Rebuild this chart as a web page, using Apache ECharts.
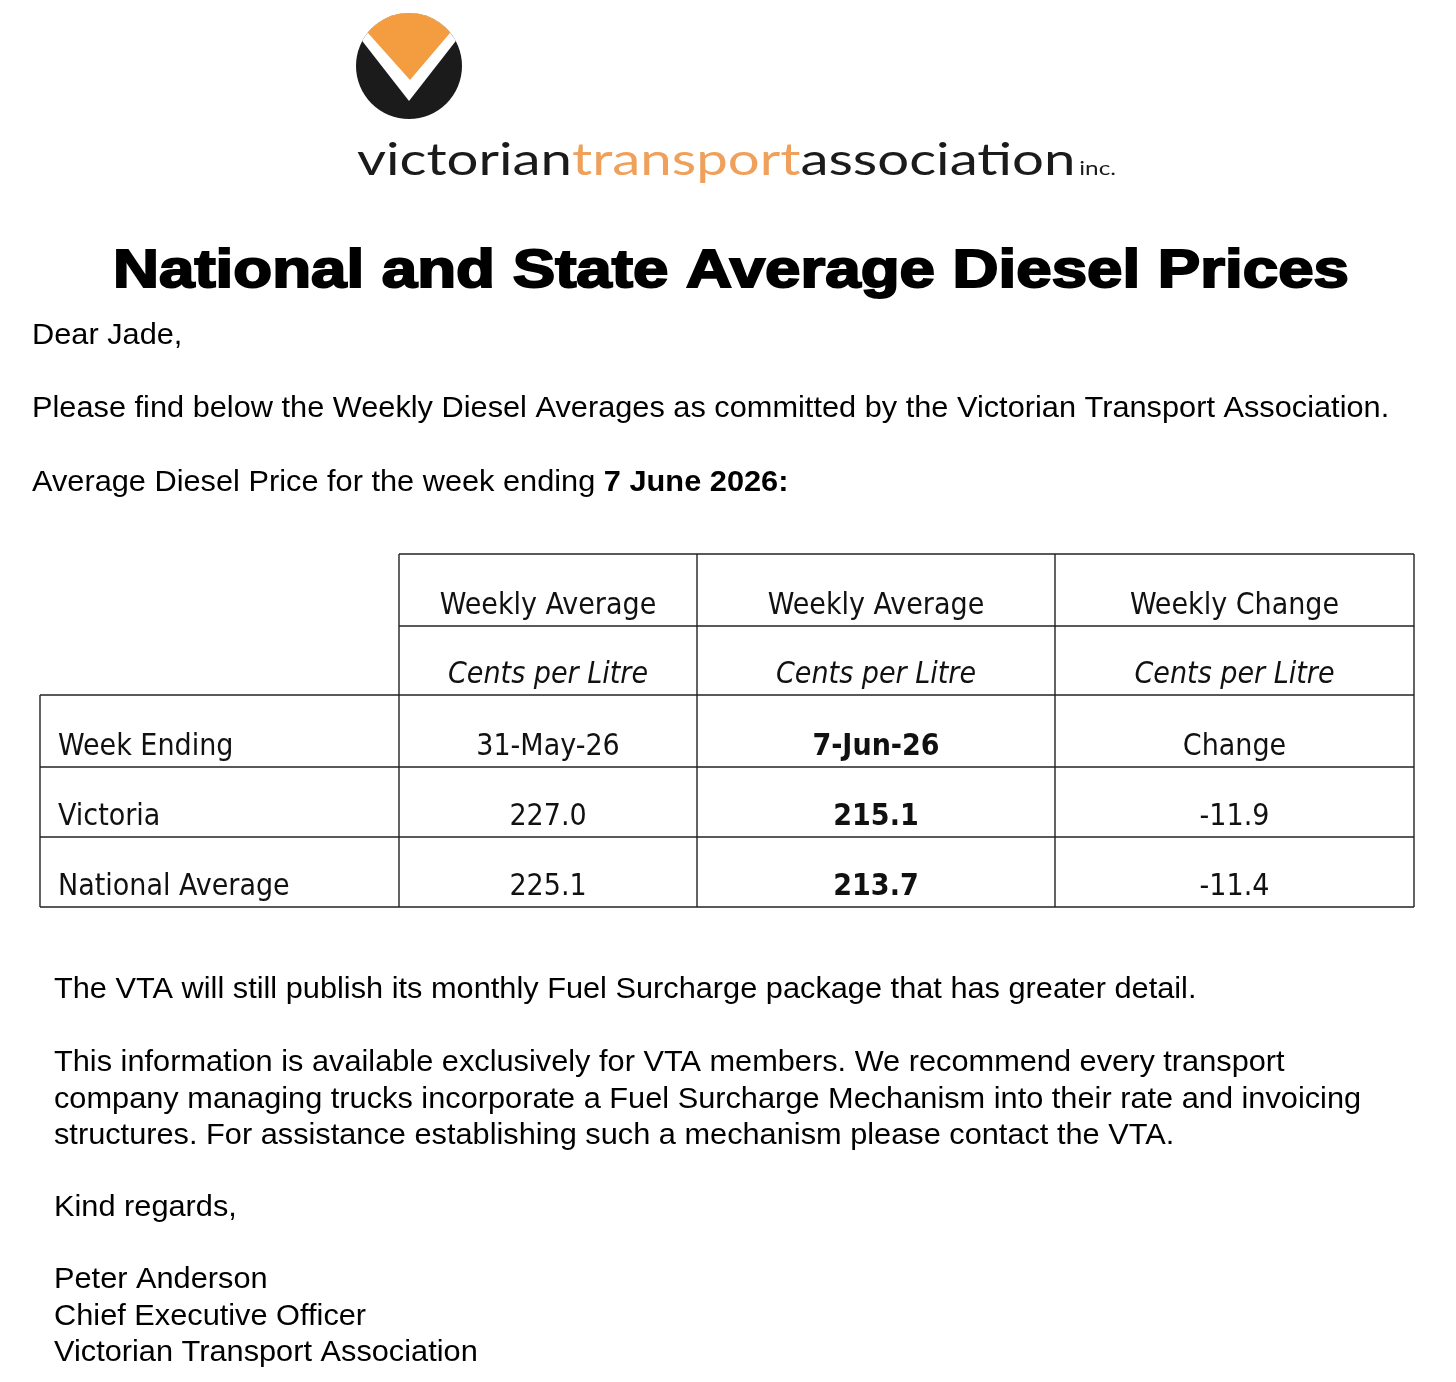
<!DOCTYPE html>
<html>
<head>
<meta charset="utf-8">
<script src="https://cdn.jsdelivr.net/npm/echarts@6/dist/echarts.min.js"></script>
<style>
html,body{margin:0;padding:0;background:#fff;}
#chart{width:1456px;height:1382px;}
</style>
</head>
<body>
<div id="chart"></div>
<script>
// ---------- data ----------
const titleText = 'National and State Average Diesel Prices';
const greeting = 'Dear Jade,';
const introLine = 'Please find below the Weekly Diesel Averages as committed by the Victorian Transport Association.';
const weekLead = 'Average Diesel Price for the week ending ';
const weekDate = '7 June 2026:';
const headerTop = ['Weekly Average', 'Weekly Average', 'Weekly Change'];
const headerUnits = ['Cents per Litre', 'Cents per Litre', 'Cents per Litre'];
const rowLabels = ['Week Ending', 'Victoria', 'National Average'];
const weekHeaders = ['31-May-26', '7-Jun-26', 'Change'];
const previousWeek = [227.0, 225.1];   // Victoria, National Average
const currentWeek = [215.1, 213.7];
const weeklyChange = [-11.9, -11.4];
const closingParas = [
  ['The VTA will still publish its monthly Fuel Surcharge package that has greater detail.'],
  ['This information is available exclusively for VTA members. We recommend every transport',
   'company managing trucks incorporate a Fuel Surcharge Mechanism into their rate and invoicing',
   'structures. For assistance establishing such a mechanism please contact the VTA.'],
  ['Kind regards,'],
  ['Peter Anderson', 'Chief Executive Officer', 'Victorian Transport Association']
];
const logoWords = ['victorian', 'transport', 'association', 'inc.'];

// ---------- layout / style ----------
const BODY_FONT = "'Liberation Sans', Arial, sans-serif";
const TABLE_FONT = "'DejaVu Sans Condensed', 'Liberation Sans Narrow', Roboto, sans-serif";
const LOGO_FONT = "Lato, 'Open Sans', sans-serif";
const ORANGE = '#F39C40';
const ORANGE_TXT = '#EFA05A';
const INK = '#1b1b1b';
const colX = [40, 399, 697, 1055, 1414];
const rowY = [554, 626, 695, 767, 837, 907];
const BODY_SIZE = 29;
const BODY_SX = 1.06;

const mctx = document.createElement('canvas').getContext('2d');
function measure(text, font) { mctx.font = font; return mctx.measureText(text).width; }

const chart = echarts.init(document.getElementById('chart'), null, {renderer: 'canvas'});
const g = [];

// logo mark
const cx = 409, cy = 66, r = 53;
function arc(a0, a1, n) {
  const pts = [];
  for (let i = 0; i <= n; i++) {
    const a = (a0 + (a1 - a0) * i / n) * Math.PI / 180;
    pts.push([cx + r * Math.cos(a), cy + r * Math.sin(a)]);
  }
  return pts;
}
g.push({type: 'circle', shape: {cx: cx, cy: cy, r: r}, style: {fill: INK}});
g.push({type: 'polygon', shape: {points: [[409, 101]].concat(arc(-152, -28, 40))}, style: {fill: '#ffffff'}});
g.push({type: 'polygon', shape: {points: [[410, 80]].concat(arc(-141, -39, 40))}, style: {fill: ORANGE}});

// logo wordmark
const logoSize = 44;
const logoMain = logoWords[0] + logoWords[1] + logoWords[2];
const logoScale = 718 / measure(logoMain, logoSize + 'px ' + LOGO_FONT);
g.push({
  type: 'text', x: 357, y: 161, scaleX: logoScale,
  style: {
    text: '{k|' + logoWords[0] + '}{o|' + logoWords[1] + '}{k|' + logoWords[2] + '}{s|' + logoWords[3] + '}',
    x: 0, y: 0, align: 'left', verticalAlign: 'middle',
    rich: {
      k: {fontFamily: LOGO_FONT, fontSize: logoSize, fill: INK, fontWeight: 400},
      o: {fontFamily: LOGO_FONT, fontSize: logoSize, fill: ORANGE_TXT, fontWeight: 400},
      s: {fontFamily: LOGO_FONT, fontSize: 19, fill: INK, padding: [16, 0, 0, 3]}
    }
  }
});

// title
const titleSize = 54;
const titleScale = 1236 / measure(titleText, 'bold ' + titleSize + 'px ' + BODY_FONT);
g.push({
  type: 'text', x: 731, y: 272, scaleX: titleScale,
  style: {text: titleText, x: 0, y: 0, align: 'center', verticalAlign: 'middle',
    font: 'bold ' + titleSize + 'px ' + BODY_FONT, fill: '#000', stroke: '#000', lineWidth: 2}
});

// body text helper (left anchored, horizontally stretched like the source)
function bodyText(t, x, y) {
  g.push({type: 'text', x: x, y: y, scaleX: BODY_SX, style: {text: t, x: 0, y: 0, align: 'left', verticalAlign: 'middle',
    font: BODY_SIZE + 'px ' + BODY_FONT, fill: '#000'}});
}
bodyText(greeting, 32, 336);
bodyText(introLine, 32, 409);
g.push({type: 'text', x: 32, y: 483, scaleX: BODY_SX, style: {
  text: '{n|' + weekLead + '}{b|' + weekDate + '}', x: 0, y: 0, align: 'left', verticalAlign: 'middle',
  rich: {n: {font: BODY_SIZE + 'px ' + BODY_FONT, fill: '#000'}, b: {font: 'bold ' + BODY_SIZE + 'px ' + BODY_FONT, fill: '#000'}}
}});

// table grid lines
const LS = {stroke: '#222', lineWidth: 1.4};
function hline(x1, x2, y) { g.push({type: 'line', shape: {x1: x1, y1: y, x2: x2, y2: y}, style: LS}); }
function vline(x, y1, y2) { g.push({type: 'line', shape: {x1: x, y1: y1, x2: x, y2: y2}, style: LS}); }
hline(colX[1], colX[4], rowY[0]);
hline(colX[1], colX[4], rowY[1]);
for (let i = 2; i < rowY.length; i++) hline(colX[0], colX[4], rowY[i]);
vline(colX[0], rowY[2], rowY[5]);
for (let i = 1; i < colX.length; i++) vline(colX[i], rowY[0], rowY[5]);

// table text
function cellText(t, col, row, opt) {
  opt = opt || {};
  const yc = rowY[row + 1] - 20;
  const left = col === 0;
  g.push({type: 'text', style: {
    text: t,
    x: left ? colX[0] + 18 : (colX[col] + colX[col + 1]) / 2,
    y: yc, align: left ? 'left' : 'center', verticalAlign: 'middle',
    font: (opt.italic ? 'italic ' : '') + (opt.bold ? 'bold ' : '') + '30px ' + TABLE_FONT,
    fill: '#111'
  }});
}
headerTop.forEach((t, i) => cellText(t, i + 1, 0));
headerUnits.forEach((t, i) => cellText(t, i + 1, 1, {italic: true}));
cellText(rowLabels[0], 0, 2);
weekHeaders.forEach((t, i) => cellText(t, i + 1, 2, {bold: i === 1}));
for (let r2 = 0; r2 < 2; r2++) {
  cellText(rowLabels[r2 + 1], 0, 3 + r2);
  cellText(previousWeek[r2].toFixed(1), 1, 3 + r2);
  cellText(currentWeek[r2].toFixed(1), 2, 3 + r2, {bold: true});
  cellText(weeklyChange[r2].toFixed(1), 3, 3 + r2);
}

// closing paragraphs
const paraStart = [990, 1063, 1208, 1280];
const lineGap = 36.7;
closingParas.forEach((para, p) => {
  para.forEach((ln, j) => bodyText(ln, 54, paraStart[p] + j * lineGap));
});

chart.setOption({backgroundColor: '#ffffff', animation: false, graphic: {elements: g}});
</script>
</body>
</html>
